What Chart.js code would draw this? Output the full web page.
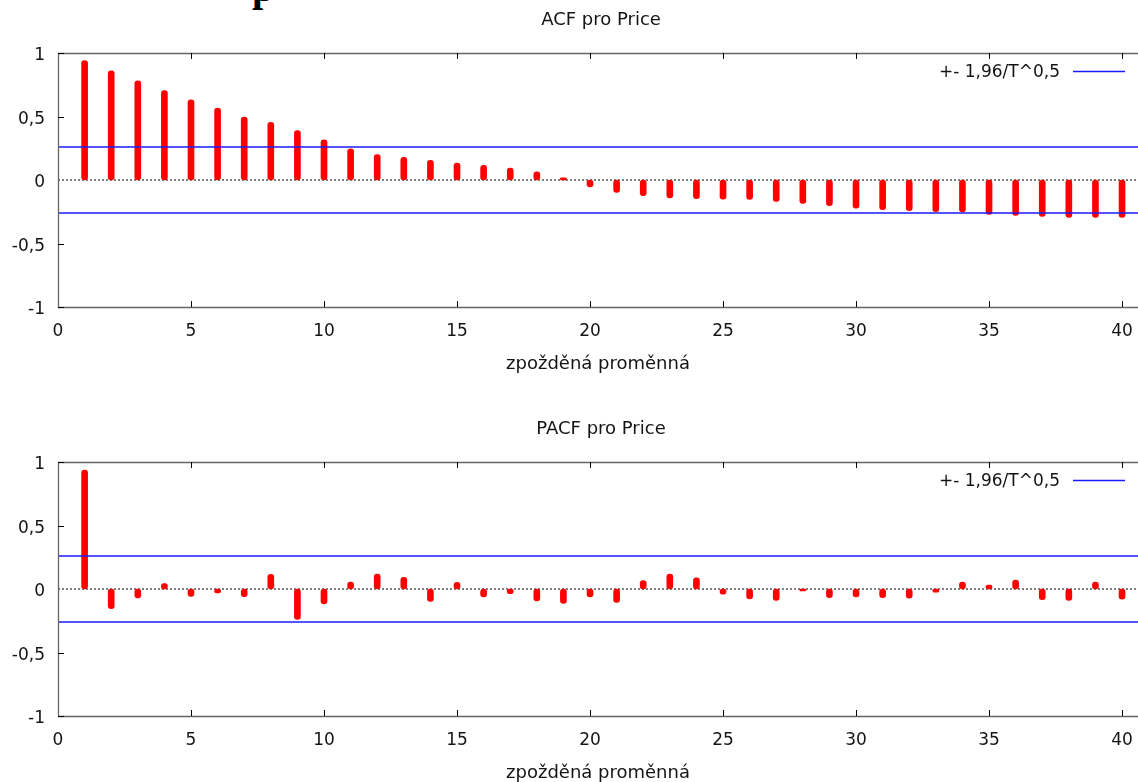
<!DOCTYPE html>
<html>
<head>
<meta charset="utf-8">
<script src="https://cdn.jsdelivr.net/npm/chart.js@4.4.0/dist/chart.umd.min.js"></script>
<style>
  html, body { margin: 0; padding: 0; background: #fff; overflow: hidden; width: 1138px; height: 782px; }
  .box { position: absolute; left: 0; width: 1138px; height: 400px; }
  #heading { position: absolute; left: 252px; top: -36px; font: bold 40px 'Liberation Serif', serif; color: #000; }
</style>
</head>
<body>
<div id="heading">p</div>
<div class="box" style="top:0"><canvas id="acfChart"></canvas></div>
<div class="box" style="top:409px"><canvas id="pacfChart"></canvas></div>
<script>
// lags 1..40
const lags = [1, 2, 3, 4, 5, 6, 7, 8, 9, 10, 11, 12, 13, 14, 15, 16, 17, 18, 19, 20,
              21, 22, 23, 24, 25, 26, 27, 28, 29, 30, 31, 32, 33, 34, 35, 36, 37, 38, 39, 40];

const acfValues = [0.94, 0.86, 0.78, 0.705, 0.632, 0.567, 0.496, 0.454, 0.39, 0.317,
                   0.246, 0.20, 0.178, 0.154, 0.134, 0.115, 0.094, 0.065, 0.018, -0.055,
                   -0.097, -0.124, -0.142, -0.147, -0.15, -0.152, -0.168, -0.184, -0.202, -0.221,
                   -0.234, -0.242, -0.25, -0.252, -0.271, -0.279, -0.287, -0.294, -0.294, -0.294];

const pacfValues = [0.937, -0.155, -0.071, 0.042, -0.058, -0.031, -0.06, 0.115, -0.239, -0.118,
                    0.055, 0.118, 0.092, -0.097, 0.052, -0.063, -0.037, -0.094, -0.113, -0.063,
                    -0.105, 0.066, 0.118, 0.087, -0.04, -0.079, -0.089, -0.015, -0.068, -0.063,
                    -0.068, -0.073, -0.025, 0.055, 0.031, 0.071, -0.084, -0.089, 0.055, -0.081];

const band = 0.26;   // 1,96/T^0,5
const xTicks = [0, 5, 10, 15, 20, 25, 30, 35, 40];
const yTicks = [-1, -0.5, 0, 0.5, 1];
const yTickLabels = ['-1', '-0,5', '0', '0,5', '1'];
const xMin = 0, xMax = 40.6;
const legendText = '+- 1,96/T^0,5';
const xTitle = 'zpožděná proměnná';

const font = "'DejaVu Sans', sans-serif";
const textColor = '#141414';
const frameColor = '#666';

// frame with inward ticks, title and legend (gnuplot look)
const gnuplotFrame = {
    id: 'gnuplotFrame',
    afterDatasetsDraw(chart, args, opts) {
        const { ctx, chartArea: a, scales: { x, y } } = chart;
        ctx.save();
        ctx.strokeStyle = frameColor;
        ctx.lineWidth = 1.3;
        ctx.beginPath();
        ctx.moveTo(a.right + 2, a.top + 0.5);
        ctx.lineTo(a.left + 0.5, a.top + 0.5);
        ctx.lineTo(a.left + 0.5, a.bottom + 0.5);
        ctx.lineTo(a.right + 2, a.bottom + 0.5);
        ctx.stroke();

        ctx.strokeStyle = '#000';
        ctx.lineWidth = 1;
        ctx.beginPath();
        x.ticks.forEach(t => {
            const px = Math.round(x.getPixelForValue(t.value)) + 0.5;
            if (px <= a.left + 1) return;
            ctx.moveTo(px, a.top); ctx.lineTo(px, a.top + 6);
            ctx.moveTo(px, a.bottom); ctx.lineTo(px, a.bottom - 6);
        });
        y.ticks.forEach(t => {
            const py = Math.round(y.getPixelForValue(t.value)) + 0.5;
            if (t.value === 0) return;
            ctx.moveTo(a.left, py); ctx.lineTo(a.left + 6, py);
        });
        ctx.stroke();

        // title
        ctx.fillStyle = textColor;
        ctx.font = '18px ' + font;
        ctx.textAlign = 'center';
        ctx.textBaseline = 'middle';
        ctx.fillText(opts.title, (a.left + a.right) / 2 + 3, 20);

        // legend
        ctx.font = '17px ' + font;
        ctx.textAlign = 'right';
        ctx.fillText(legendText, a.right - 78, a.top + 20);
        ctx.strokeStyle = '#1a1aff';
        ctx.lineWidth = 1.3;
        ctx.beginPath();
        ctx.moveTo(a.right - 65, a.top + 18.5);
        ctx.lineTo(a.right - 13, a.top + 18.5);
        ctx.stroke();
        ctx.restore();
    }
};

function makeChart(canvasId, title, values) {
    const bars = lags.map((l, i) => ({ x: l, y: values[i] }));
    const upper = [{ x: xMin, y: band }, { x: xMax, y: band }];
    const lower = [{ x: xMin, y: -band }, { x: xMax, y: -band }];
    const zero = [{ x: xMin, y: 0 }, { x: xMax, y: 0 }];

    return new Chart(document.getElementById(canvasId), {
        type: 'bar',
        data: {
            datasets: [
                {
                    type: 'line', data: upper, borderColor: '#1a1aff', borderWidth: 1.3,
                    pointRadius: 0, order: 0
                },
                {
                    type: 'line', data: lower, borderColor: '#1a1aff', borderWidth: 1.3,
                    pointRadius: 0, order: 0
                },
                {
                    type: 'bar', data: bars, backgroundColor: '#ff0000', borderWidth: 0,
                    barThickness: 6, borderRadius: 3, borderSkipped: false, order: 1
                },
                {
                    type: 'line', data: zero, borderColor: '#000', borderWidth: 1,
                    borderDash: [2, 2], pointRadius: 0, order: 2
                }
            ]
        },
        options: {
            responsive: true,
            maintainAspectRatio: false,
            animation: false,
            devicePixelRatio: 1,
            layout: { padding: { top: 53, left: 0, right: 0, bottom: 0 } },
            plugins: {
                legend: { display: false },
                tooltip: { enabled: false },
                gnuplotFrame: { title: title }
            },
            scales: {
                x: {
                    type: 'linear',
                    offset: false,
                    min: xMin,
                    max: xMax,
                    afterBuildTicks: s => { s.ticks = xTicks.map(v => ({ value: v })); },
                    afterFit: s => { s.height = 93; s.paddingLeft = 0; s.paddingRight = 0; },
                    grid: { display: false, drawTicks: false, offset: false },
                    border: { display: false },
                    ticks: {
                        padding: 14,
                        color: textColor,
                        font: { family: font, size: 17 },
                        callback: v => String(v)
                    },
                    title: {
                        display: true,
                        text: xTitle,
                        color: textColor,
                        font: { family: font, size: 18 },
                        padding: { top: 0, bottom: 25 }
                    }
                },
                y: {
                    min: -1,
                    max: 1,
                    afterBuildTicks: s => { s.ticks = yTicks.map(v => ({ value: v })); },
                    afterFit: s => { s.width = 58; s.paddingTop = 0; s.paddingBottom = 0; },
                    grid: { display: false, drawTicks: false },
                    border: { display: false },
                    ticks: {
                        padding: 13,
                        labelOffset: 3,
                        color: textColor,
                        font: { family: font, size: 17 },
                        callback: v => yTickLabels[yTicks.indexOf(v)]
                    }
                }
            }
        },
        plugins: [gnuplotFrame]
    });
}

makeChart('acfChart', 'ACF pro Price', acfValues);
makeChart('pacfChart', 'PACF pro Price', pacfValues);
</script>
</body>
</html>
